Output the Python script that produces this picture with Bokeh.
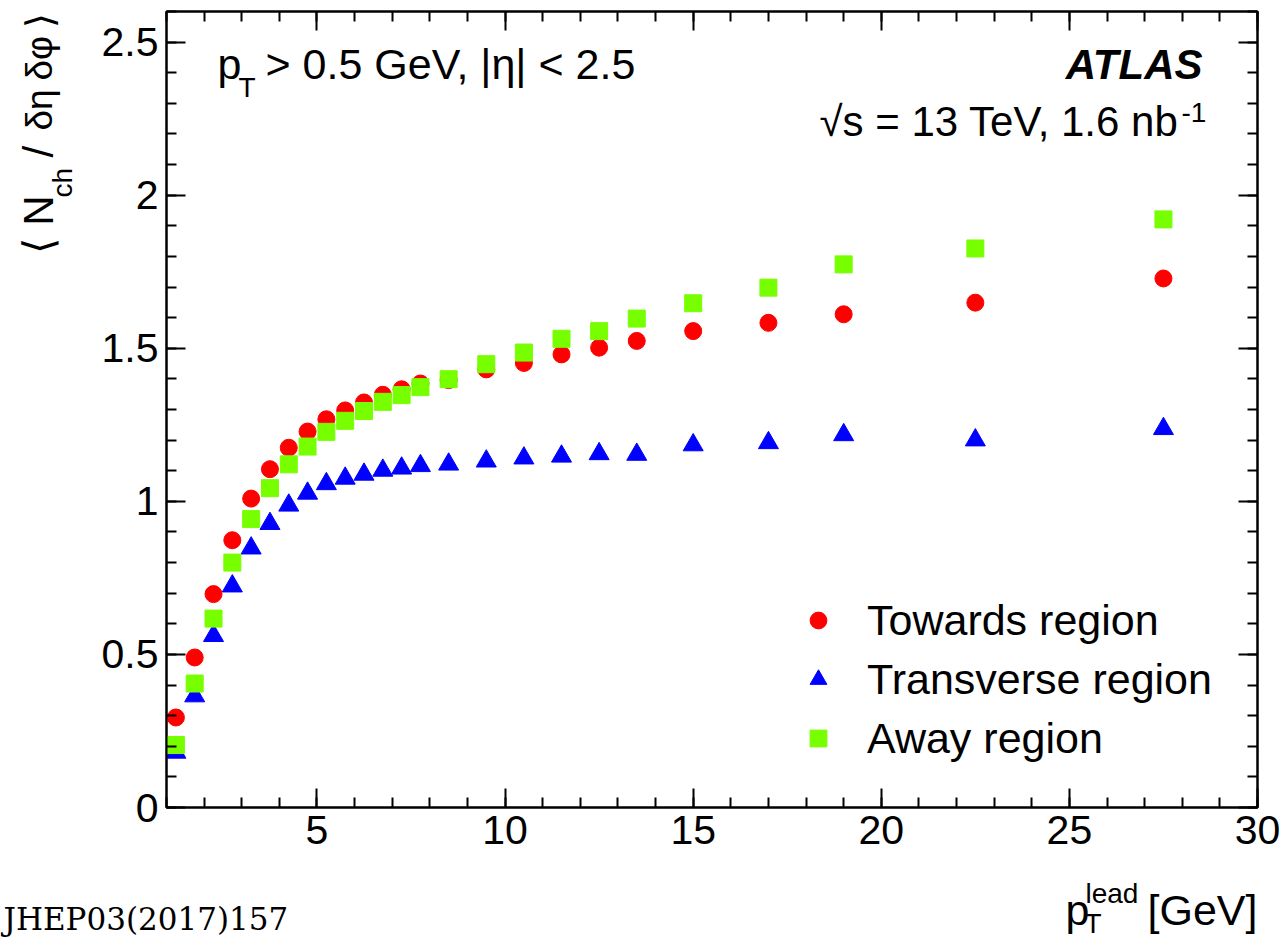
import math
from bokeh.plotting import figure
from bokeh.models import (FixedTicker, LinearAxis, Label, Legend, LegendItem,
                          Range1d, ColumnDataSource)
from bokeh.layouts import column, row
from bokeh.embed import file_html
from bokeh.resources import INLINE

# ---- data ----
pt = [1.25, 1.75, 2.25, 2.75, 3.25, 3.75, 4.25, 4.75, 5.25, 5.75, 6.25, 6.75,
      7.25, 7.75, 8.5, 9.5, 10.5, 11.5, 12.5, 13.5, 15, 17, 19, 22.5, 27.5]
towards = [0.294, 0.490, 0.697, 0.873, 1.009, 1.105, 1.175, 1.228, 1.268, 1.297,
           1.323, 1.348, 1.366, 1.385, 1.396, 1.431, 1.452, 1.480, 1.502, 1.524,
           1.556, 1.583, 1.611, 1.649, 1.728]
transverse = [0.180, 0.364, 0.561, 0.723, 0.847, 0.927, 0.987, 1.026, 1.057, 1.075,
              1.088, 1.101, 1.108, 1.116, 1.121, 1.131, 1.141, 1.147, 1.155, 1.153,
              1.184, 1.191, 1.217, 1.200, 1.237]
away = [0.204, 0.405, 0.617, 0.800, 0.942, 1.043, 1.121, 1.179, 1.227, 1.263,
        1.295, 1.325, 1.347, 1.373, 1.399, 1.448, 1.486, 1.531, 1.556, 1.597,
        1.647, 1.698, 1.774, 1.826, 1.921]

series_names = ["Towards region", "Transverse region", "Away region"]

x_major = [5, 10, 15, 20, 25, 30]
x_minor = list(range(1, 31))
y_major = [0, 0.5, 1, 1.5, 2, 2.5]
y_minor = [round(i * 0.1, 1) for i in range(27)]
y_labels = {0: "0", 0.5: "0.5", 1: "1", 1.5: "1.5", 2: "2", 2.5: "2.5"}

FONT = "Liberation Sans"

# layout sizes
LEFT_W = 80
MAIN_W = 1205
MAIN_H = 870
BOTTOM_H = 68

p = figure(width=MAIN_W, height=MAIN_H, x_range=Range1d(1, 30), y_range=Range1d(0, 2.6),
           output_backend="svg", toolbar_location=None,
           min_border_left=86, min_border_right=28, min_border_top=11,
           min_border_bottom=63)
p.xgrid.visible = False
p.ygrid.visible = False
p.outline_line_color = "black"
p.outline_line_width = 2
p.background_fill_color = "white"
p.border_fill_color = "white"

bottom_axis = p.below[0]
left_axis = p.left[0]
top_axis = LinearAxis()
right_axis = LinearAxis()
p.add_layout(top_axis, "above")
p.add_layout(right_axis, "right")

def style_axis(ax, ticks, minors, show_labels):
    ax.ticker = FixedTicker(ticks=ticks, minor_ticks=minors)
    ax.major_tick_in = 19
    ax.major_tick_out = 0
    ax.minor_tick_in = 10
    ax.minor_tick_out = 0
    ax.axis_line_color = "black"
    ax.axis_line_width = 2
    ax.major_tick_line_color = "black"
    ax.major_tick_line_width = 2
    ax.minor_tick_line_color = "black"
    ax.minor_tick_line_width = 2
    if show_labels:
        ax.major_label_text_font = FONT
        ax.major_label_text_font_size = "41px"
        ax.major_label_text_color = "black"
        ax.major_label_standoff = 8
    else:
        ax.major_label_text_font_size = "0px"
        ax.major_label_standoff = 0
        ax.major_label_text_alpha = 0

style_axis(bottom_axis, x_major, x_minor, True)
style_axis(left_axis, y_major, y_minor, True)
style_axis(top_axis, x_major, x_minor, False)
style_axis(right_axis, y_major, y_minor, False)
left_axis.major_label_overrides = y_labels

src = ColumnDataSource(dict(pt=pt, towards=towards, transverse=transverse, away=away))
r1 = p.scatter("pt", "towards", source=src, marker="circle", size=17,
               fill_color="#ff0000", line_color="#ff0000")
r2 = p.scatter("pt", "transverse", source=src, marker="triangle", size=20,
               fill_color="#0000ff", line_color="#0000ff")
r3 = p.scatter("pt", "away", source=src, marker="square", size=17,
               fill_color="#77ff00", line_color="#77ff00")

legend = Legend(items=[LegendItem(label=series_names[0], renderers=[r1]),
                       LegendItem(label=series_names[1], renderers=[r2]),
                       LegendItem(label=series_names[2], renderers=[r3])],
                location=(631, 44),
                label_text_font=FONT, label_text_font_size="43px",
                label_text_color="black",
                glyph_width=42, glyph_height=50, label_height=50,
                spacing=9, padding=0, margin=0, label_standoff=28,
                border_line_color=None, background_fill_alpha=0)
p.add_layout(legend)

BASE_K = 0.34  # compensation for where the alphabetic baseline lands

def lab(fig, text, x, y, size, angle=0.0, align="left", style="normal", font=FONT):
    if angle == 0.0:
        y = y + BASE_K * size
    else:
        x = x - BASE_K * size
    fig.add_layout(Label(x=x, y=y, x_units="screen", y_units="screen", text=text,
                         text_font_size=f"{size}px", text_font=font,
                         text_align=align, text_baseline="alphabetic",
                         angle=angle, text_font_style=style, text_color="black"))

# texts inside the frame (frame-relative screen coordinates)
lab(p, "p", 51, 729, 43)
lab(p, "T", 72, 710, 28)
lab(p, "> 0.5 GeV, |η| < 2.5", 99, 729, 43)
lab(p, "ATLAS", 1036, 729, 42, align="right", style="bold italic")
lab(p, "√s = 13 TeV, 1.6 nb", 1012, 672, 42, align="right")
lab(p, "-1", 1015, 685, 28)

def strip(w, h):
    f = figure(width=w, height=h, x_range=Range1d(0, w), y_range=Range1d(0, h),
               output_backend="svg", toolbar_location=None, min_border=0,
               x_axis_location=None, y_axis_location=None)
    f.outline_line_color = None
    f.xgrid.visible = False
    f.ygrid.visible = False
    f.background_fill_color = "white"
    f.border_fill_color = "white"
    return f

# y-axis title (rotated); the strip's frame is aligned with the main frame
left_strip = strip(LEFT_W, MAIN_H)
half_pi = math.pi / 2
lab(left_strip, "⟨ N", 52, 554, 42, angle=half_pi)
lab(left_strip, "ch", 72, 610, 28, angle=half_pi)
lab(left_strip, "/", 52, 650, 42, angle=half_pi)
lab(left_strip, "δη", 52, 677, 37, angle=half_pi)
lab(left_strip, "δφ", 52, 727, 37, angle=half_pi)
lab(left_strip, "⟩", 52, 780, 38, angle=half_pi)

# x-axis title and journal reference, in a strip below the plot
bottom_strip = strip(LEFT_W + MAIN_W, BOTTOM_H)
lab(bottom_strip, "p", 1065, 14, 43)
lab(bottom_strip, "lead", 1085, 35, 28)
lab(bottom_strip, "T", 1084, 5, 28)
lab(bottom_strip, "[GeV]", 1257, 14, 43, align="right")
lab(bottom_strip, "JHEP03(2017)157", 3, 9, 31, font="DejaVu Serif")

layout = column(row(left_strip, p), bottom_strip)
open("out.html", "w").write(file_html(layout, INLINE))
